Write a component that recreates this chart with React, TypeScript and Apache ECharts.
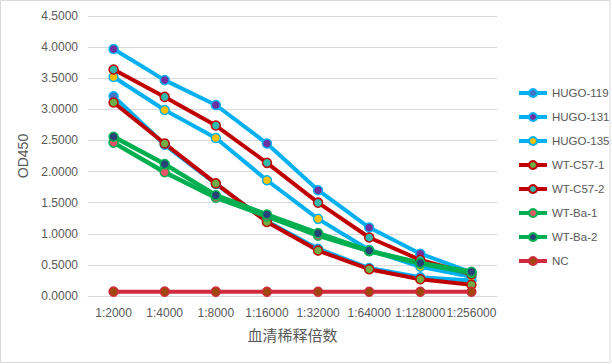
import React, { useEffect, useRef } from "react";
import * as echarts from "echarts";

const categories = ["1:2000", "1:4000", "1:8000", "1:16000", "1:32000", "1:64000", "1:128000", "1:256000"];
const hugo119 = [3.21, 2.43, 1.80, 1.20, 0.76, 0.45, 0.30, 0.25];
const hugo131 = [3.97, 3.47, 3.07, 2.45, 1.70, 1.10, 0.68, 0.38];
const hugo135 = [3.52, 2.99, 2.54, 1.86, 1.24, 0.74, 0.47, 0.31];
const wtC57_1 = [3.11, 2.45, 1.81, 1.19, 0.73, 0.43, 0.27, 0.18];
const wtC57_2 = [3.64, 3.20, 2.74, 2.14, 1.50, 0.94, 0.58, 0.35];
const wtBa1 = [2.465, 1.99, 1.58, 1.28, 0.97, 0.72, 0.52, 0.37];
const wtBa2 = [2.56, 2.12, 1.62, 1.31, 1.01, 0.73, 0.53, 0.39];
const nc = [0.07, 0.07, 0.07, 0.068, 0.068, 0.068, 0.068, 0.068];

const seriesDefs = [
  { name: "HUGO-119", data: hugo119, line: "#00B0F0", marker: "#4472C4", width: 4 },
  { name: "HUGO-131", data: hugo131, line: "#00B0F0", marker: "#7030A0", width: 4 },
  { name: "HUGO-135", data: hugo135, line: "#00B0F0", marker: "#FFC000", width: 4 },
  { name: "WT-C57-1", data: wtC57_1, line: "#C00000", marker: "#70AD47", width: 4 },
  { name: "WT-C57-2", data: wtC57_2, line: "#C00000", marker: "#33B8AE", width: 4 },
  { name: "WT-Ba-1", data: wtBa1, line: "#00B050", marker: "#E8556A", width: 4.5 },
  { name: "WT-Ba-2", data: wtBa2, line: "#00B050", marker: "#264478", width: 4.5 },
  { name: "NC", data: nc, line: "#D02A3F", marker: "#9E480E", width: 4 },
];

const FONT = "'Liberation Sans', Arial, sans-serif";
const TEXT = "#595959";

export default function App() {
  const ref = useRef<HTMLDivElement>(null);
  useEffect(() => {
    if (!ref.current) return;
    const chart = echarts.init(ref.current, null, { renderer: "svg" });
    chart.setOption({
      animation: false,
      backgroundColor: "#ffffff",
      textStyle: { fontFamily: FONT },
      graphic: [
        {
          type: "rect",
          shape: { x: 0.5, y: 0.5, width: 609.5, height: 362 },
          style: { fill: "none", stroke: "#D9D9D9", lineWidth: 1 },
          silent: true,
        },
      ],
      grid: { left: 88, right: 115, top: 16, bottom: 68, containLabel: false },
      legend: {
        orient: "vertical",
        left: 512,
        top: 82,
        itemWidth: 28,
        itemHeight: 10,
        itemGap: 12,
        lineStyle: { width: 4 },
        textStyle: { color: TEXT, fontSize: 11.5, fontFamily: FONT },
        data: seriesDefs.map((s) => s.name),
      },
      xAxis: {
        type: "category",
        data: categories,
        boundaryGap: true,
        name: "血清稀释倍数",
        nameLocation: "middle",
        nameGap: 31,
        nameTextStyle: { color: TEXT, fontSize: 15, fontFamily: "'Noto Sans CJK SC', sans-serif" },
        axisLine: { lineStyle: { color: "#D9D9D9", width: 1 } },
        axisTick: { show: false },
        axisLabel: { interval: 0, hideOverlap: false, color: TEXT, fontSize: 12, fontFamily: FONT, margin: 11 },
      },
      yAxis: {
        type: "value",
        min: 0,
        max: 4.5,
        interval: 0.5,
        name: "OD450",
        nameLocation: "middle",
        nameGap: 48,
        nameTextStyle: { color: TEXT, fontSize: 14, fontFamily: FONT },
        axisLine: { show: false },
        axisTick: { show: false },
        splitLine: { lineStyle: { color: "#D9D9D9", width: 1 } },
        axisLabel: {
          color: TEXT,
          fontSize: 12,
          fontFamily: FONT,
          margin: 10,
          formatter: (v: number) => v.toFixed(4),
        },
      },
      series: seriesDefs.map((s) => ({
        name: s.name,
        type: "line",
        data: s.data,
        symbol: "circle",
        symbolSize: 9,
        showSymbol: true,
        lineStyle: { color: s.line, width: s.width },
        itemStyle: { color: s.marker, borderColor: s.line, borderWidth: 1.5 },
        emphasis: { disabled: true },
      })),
    });
    return () => chart.dispose();
  }, []);
  return (
    <div
      ref={ref}
      style={{ position: "fixed", left: 0, top: 0, width: 612, height: 364 }}
    />
  );
}
